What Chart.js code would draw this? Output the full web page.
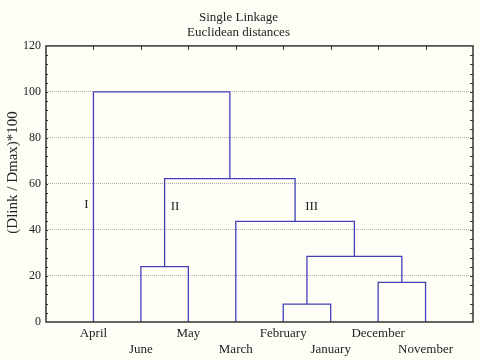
<!DOCTYPE html>
<html><head><meta charset="utf-8">
<script src="https://cdn.jsdelivr.net/npm/chart.js@4"></script>
<style>html,body{margin:0;padding:0;background:#fefef7;}#wrap{width:480px;height:360px;}</style>
</head><body><div id="wrap"><canvas id="c" width="480" height="360"></canvas></div>
<script>
// Leaves in dendrogram order
const leaves = ['April','June','May','March','February','January','December','November'];
// Merge steps: ids 0..7 are leaves, each merge creates id 8,9,...
const mergeA = [1, 4, 6, 9, 3, 8, 0];
const mergeB = [2, 5, 7, 10, 11, 12, 13];
const mergeHeight = [24.1, 7.8, 17.2, 28.5, 43.7, 62.3, 100];
const yTicks = [0, 20, 40, 60, 80, 100, 120];
const yTitle = '(Dlink / Dmax)*100';
const clusterLabels = ['I', 'II', 'III'];
const clusterLabelX = [0.85, 2.72, 5.6];
const clusterLabelY = [51, 50, 50];

// build segments from linkage
const pos = leaves.map((_, i) => i + 1);
const hgt = leaves.map(() => 0);
const datasets = [];
for (let k = 0; k < mergeA.length; k++) {
  const a = mergeA[k], b = mergeB[k], h = mergeHeight[k];
  datasets.push({
    data: [{x: pos[a], y: hgt[a]}, {x: pos[a], y: h}, {x: pos[b], y: h}, {x: pos[b], y: hgt[b]}],
    borderColor: '#4242b6', borderWidth: 1.3, pointRadius: 0, showLine: true, fill: false, tension: 0
  });
  pos.push((pos[a] + pos[b]) / 2);
  hgt.push(h);
}

const serif = 'Liberation Serif';
const framePlugin = {
  id: 'frame',
  beforeDraw(chart) {
    const c = chart.ctx;
    c.save(); c.fillStyle = '#fefef7'; c.fillRect(0, 0, chart.width, chart.height); c.restore();
  },
  afterDraw(chart) {
    const c = chart.ctx, a = chart.chartArea, xs = chart.scales.x, ys = chart.scales.y;
    c.save();
    c.strokeStyle = '#333'; c.lineWidth = 1.5;
    c.strokeRect(a.left, a.top, a.right - a.left, a.bottom - a.top);
    c.lineWidth = 1;
    for (let i = 1; i <= leaves.length; i++) {
      const px = Math.round(xs.getPixelForValue(i)) + 0.5;
      c.beginPath(); c.moveTo(px, a.top); c.lineTo(px, a.top + 4); c.stroke();
    }
    for (let v = 4; v < 120; v += 4) {
      const py = Math.round(ys.getPixelForValue(v)) + 0.5;
      c.beginPath(); c.moveTo(a.right, py); c.lineTo(a.right - 3, py); c.stroke();
      c.beginPath(); c.moveTo(a.left, py); c.lineTo(a.left + 2, py); c.stroke();
    }
    c.fillStyle = '#222'; c.font = '13px "' + serif + '"';
    c.textAlign = 'center'; c.textBaseline = 'middle';
    for (let i = 0; i < clusterLabels.length; i++) {
      c.fillText(clusterLabels[i], xs.getPixelForValue(clusterLabelX[i]), ys.getPixelForValue(clusterLabelY[i]));
    }
    // y axis title
    c.translate(13, ys.getPixelForValue(65));
    c.rotate(-Math.PI / 2);
    c.font = '15px "' + serif + '"';
    c.fillText(yTitle, 0, 0);
    c.restore();
  }
};

new Chart(document.getElementById('c'), {
  type: 'scatter',
  data: { datasets },
  options: {
    responsive: false, animation: false, devicePixelRatio: 1,
    layout: { padding: { left: 4, right: 7, top: 3, bottom: 0 } },
    plugins: {
      legend: { display: false }, tooltip: { enabled: false },
      title: { display: true, text: ['Single Linkage', 'Euclidean distances'], color: '#222',
        font: { family: serif, size: 13, weight: 'normal', lineHeight: 1.15 }, padding: { top: 7, bottom: 6 } }
    },
    scales: {
      x: {
        type: 'linear', min: 0, max: leaves.length + 1,
        afterBuildTicks(s) { s.ticks = leaves.map((_, i) => ({ value: i + 1 })); },
        afterFit(s) { s.height = 38; },
        ticks: {
          autoSkip: false, maxRotation: 0, color: '#222', font: { family: serif, size: 13, lineHeight: 1.25 }, padding: 3,
          callback(v) { const i = Math.round(v) - 1; return i % 2 === 0 ? [leaves[i], ''] : ['', leaves[i]]; }
        },
        grid: { display: false, drawTicks: false }, border: { display: false }
      },
      y: {
        min: 0, max: 120,
        afterBuildTicks(s) { s.ticks = yTicks.map(v => ({ value: v })); },
        afterFit(s) { s.width = 42; },
        ticks: { color: '#222', font: { family: serif, size: 12 }, padding: 5 },
        grid: {
          drawTicks: false,
          color: ctx => (ctx.tick && (ctx.tick.value === 0 || ctx.tick.value === 120)) ? 'rgba(0,0,0,0)' : '#b0b0b0',
          lineWidth: 1
        },
        border: { display: false, dash: [1, 1] }
      }
    }
  },
  plugins: [framePlugin]
});
</script></body></html>
